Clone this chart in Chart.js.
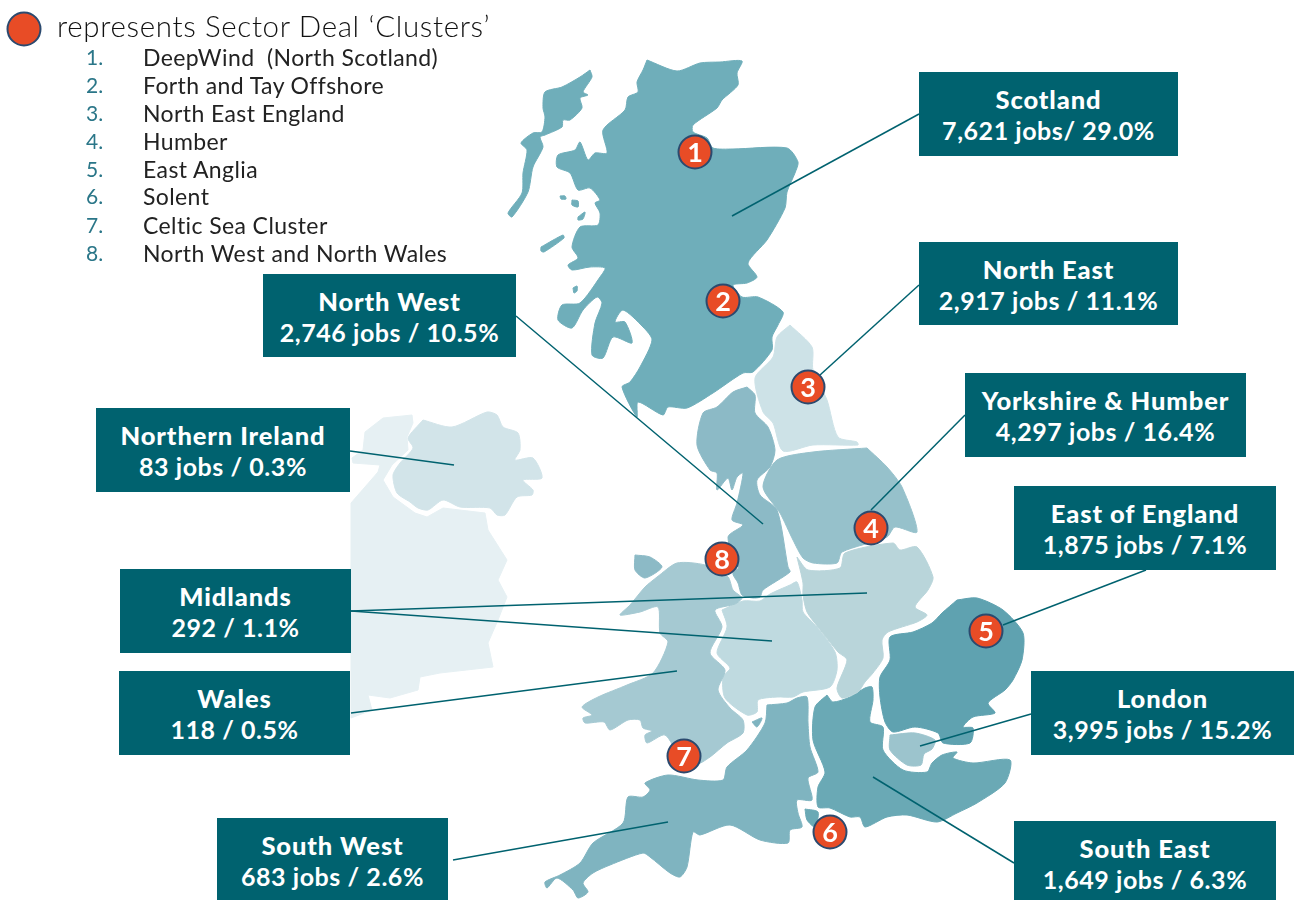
<!DOCTYPE html>
<html>
<head>
<meta charset="utf-8">
<style>
  html, body { margin: 0; padding: 0; background: #fff; overflow: hidden; }
  #wrap { position: relative; width: 1295px; height: 900px; font-family: Lato, sans-serif; }
  canvas { position: absolute; left: 0; top: 0; }
  .box { position: absolute; background: #00626f; color: #fff; text-align: center; font-weight: 700; font-size: 25px; line-height: 31px; letter-spacing: 0.55px; box-sizing: border-box; padding-top: 12px; white-space: nowrap; }
  .box b { font-size: 25.5px; letter-spacing: 0.9px; }
  .title { position: absolute; left: 57px; top: 8px; font-size: 29.5px; line-height: 36px; font-weight: 300; color: #111; letter-spacing: 0.65px; white-space: nowrap; }
  .num { position: absolute; left: 86px; font-size: 21px; line-height: 28px; color: #2a7688; font-weight: 400; }
  .item { position: absolute; left: 143px; font-size: 23px; line-height: 28px; color: #222; font-weight: 400; letter-spacing: 0.4px; white-space: pre; }
</style>
</head>
<body>
<div id="wrap">
  <canvas id="chartMapa" width="1295" height="900"></canvas>
  <div class="title">represents Sector Deal ‘Clusters’</div>
</div>
<script src="https://cdn.jsdelivr.net/npm/chart.js@4"></script>
<script>
const clusterNames = ['DeepWind  (North Scotland)', 'Forth and Tay Offshore', 'North East England', 'Humber', 'East Anglia', 'Solent', 'Celtic Sea Cluster', 'North West and North Wales'];
const clusterRows = [57, 85, 113, 141, 169, 196, 225, 253];
const clusterX = [695, 723, 808, 871, 986, 830, 684, 722];
const clusterY = [152, 301, 387, 528, 631, 832, 756, 559];

const regionNames = ['Scotland', 'North East', 'Yorkshire & Humber', 'East of England', 'London', 'South East', 'North West', 'Northern Ireland', 'Midlands', 'Wales', 'South West'];
const regionFigures = ['7,621 jobs/ 29.0%', '2,917 jobs / 11.1%', '4,297 jobs / 16.4%', '1,875 jobs / 7.1%', '3,995 jobs / 15.2%', '1,649 jobs / 6.3%', '2,746 jobs / 10.5%', '83 jobs / 0.3%', '292 / 1.1%', '118 / 0.5%', '683 jobs / 2.6%'];
// left, top, right, bottom of each label box
const regionBoxes = [
  [919, 72, 1178, 156], [919, 242, 1178, 325], [965, 373, 1246, 457], [1014, 486, 1276, 570],
  [1031, 671, 1294, 755], [1014, 821, 1276, 900], [263, 274, 516, 357], [96, 408, 350, 492],
  [120, 569, 351, 653], [119, 671, 350, 755], [217, 818, 448, 900]
];

// leader lines from the boxes into the map
const leaders = [
  [[919, 114], [732, 216]], [[919, 285], [820, 375]], [[965, 415], [871, 510]], [[1146, 570], [1003, 625]],
  [[1031, 714], [920, 746]], [[1014, 863], [873, 777]], [[516, 316], [763, 524]], [[350, 451], [454, 465]],
  [[351, 611], [867, 593]], [[351, 611], [772, 641]], [[351, 713], [677, 671]], [[453, 860], [668, 822]]
];

// map outlines
const scotland = [[647,60],[677,71],[700,63],[720,62],[742,61],[737,73],[738,85],[722,100],[717,108],[693,125],[693,132],[707,138],[713,148],[733,149],[787,148],[798,162],[795,173],[787,192],[785,208],[767,240],[748,263],[757,277],[747,283],[733,285],[742,297],[758,297],[783,312],[778,325],[772,337],[772,350],[753,372],[743,373],[713,393],[687,408],[668,407],[663,415],[638,402],[637,417],[622,387],[630,382],[640,367],[652,340],[643,327],[623,310],[615,322],[625,322],[632,343],[613,337],[603,358],[592,355],[595,323],[602,303],[597,297],[583,310],[572,328],[558,320],[562,305],[580,303],[600,277],[605,268],[590,267],[572,270],[568,265],[578,258],[572,247],[580,227],[598,225],[600,213],[595,203],[600,200],[590,188],[578,190],[570,173],[557,167],[558,155],[575,150],[580,142],[588,160],[595,153],[607,153],[603,130],[625,110],[628,97],[638,92],[637,82],[643,70]];
const hebrides = [[590,70],[592,77],[583,92],[588,95],[580,98],[582,108],[570,120],[563,120],[562,127],[545,135],[540,137],[543,147],[533,167],[528,192],[512,217],[508,213],[522,193],[523,173],[527,150],[521,143],[533,133],[542,132],[545,117],[543,108],[545,92],[562,87],[580,77]];
const isleA = [[572,200],[578,201],[578,207],[572,205]];
const isleB = [[578,217],[585,212],[583,219],[578,220]];
const isleC = [[541,247],[563,235],[564,238],[544,252],[541,251]];
const isleD = [[573,288],[577,286],[577,291],[574,293]];
const isleE = [[560,196],[565,196],[566,199],[561,199]];
const northEast = [[790,325],[812,347],[813,370],[827,400],[838,437],[857,442],[858,445],[813,445],[783,451],[773,423],[763,412],[755,378],[773,357],[777,337]];
const northWest = [[747,387],[755,395],[755,413],[768,427],[775,450],[770,467],[757,480],[760,495],[777,510],[788,567],[790,572],[763,590],[760,597],[753,598],[742,595],[738,583],[733,573],[748,563],[740,570],[728,537],[743,525],[732,520],[737,503],[743,473],[737,477],[732,490],[728,478],[717,490],[717,473],[710,470],[697,445],[703,413],[717,407],[733,392]];
const yorkshire = [[867,448],[887,467],[902,487],[917,532],[895,527],[887,537],[842,552],[837,563],[813,563],[803,558],[793,540],[780,513],[763,487],[777,460],[813,452]];
const anglesey = [[635,555],[650,557],[662,567],[645,578],[635,570]];
const wales = [[657,577],[677,563],[705,565],[728,577],[733,590],[742,598],[735,604],[715,610],[722,627],[710,653],[725,670],[718,690],[730,708],[743,720],[743,733],[727,743],[710,757],[695,765],[680,757],[665,735],[647,743],[645,735],[652,731],[643,728],[640,720],[628,720],[610,730],[604,722],[585,723],[583,718],[592,715],[582,707],[598,697],[627,685],[653,673],[668,642],[660,633],[658,607],[640,612],[620,615],[630,605],[645,587]];
const westMidlands = [[722,610],[743,601],[760,601],[770,594],[790,585],[797,582],[802,600],[803,612],[817,627],[835,652],[837,670],[830,687],[803,692],[793,697],[777,697],[758,700],[757,712],[747,715],[725,698],[723,677],[730,668],[717,653],[727,627]];
const eastMidlands = [[797,557],[808,570],[840,568],[845,553],[893,543],[900,550],[917,547],[933,577],[928,590],[915,607],[927,615],[917,622],[888,632],[882,640],[883,658],[873,673],[865,682],[858,692],[842,698],[837,688],[847,660],[838,652],[818,627],[807,612],[803,595],[803,583]];
const eastEngland = [[957,600],[977,598],[1003,610],[1023,633],[1022,660],[1013,680],[1005,690],[988,703],[995,713],[973,717],[963,727],[973,728],[970,743],[943,743],[938,733],[915,727],[893,732],[885,722],[880,697],[880,677],[890,660],[890,637],[913,632],[932,623],[942,613]];
const london = [[890,735],[915,733],[935,740],[932,749],[924,754],[921,765],[907,765],[890,750]];
const southEast = [[827,695],[833,702],[850,697],[865,688],[872,687],[873,700],[870,722],[883,727],[883,750],[903,770],[927,772],[932,763],[942,755],[957,752],[953,758],[973,763],[1010,760],[1005,783],[977,803],[957,813],[937,822],[907,815],[887,817],[865,827],[860,817],[850,817],[830,808],[818,807],[818,787],[825,772],[813,740],[815,707]];
const isleOfWight = [[805,809],[818,812],[815,827],[807,820]];
const southWest = [[767,705],[787,703],[797,698],[807,697],[808,723],[810,747],[818,772],[808,778],[812,800],[797,800],[798,813],[802,827],[790,830],[788,843],[760,840],[730,825],[700,835],[693,832],[687,867],[680,877],[670,873],[650,857],[643,853],[610,865],[593,873],[583,883],[588,892],[578,898],[573,890],[557,878],[547,888],[545,882],[560,875],[580,863],[593,843],[623,823],[628,797],[643,797],[650,790],[645,783],[668,775],[698,780],[723,780],[727,767],[747,750],[765,723]];
const severnIsle = [[752,722],[762,718],[757,727]];
const northernIreland = [[423,420],[452,427],[487,412],[497,415],[503,427],[518,433],[520,450],[515,460],[533,458],[542,478],[523,480],[533,490],[532,495],[517,497],[505,515],[497,515],[490,508],[460,507],[443,500],[428,510],[418,508],[410,502],[397,493],[393,475],[400,463],[413,448],[408,438]];
const ireland = [[365,432],[383,418],[412,415],[413,423],[407,437],[408,450],[392,465],[383,480],[393,497],[415,513],[427,517],[443,508],[485,513],[488,530],[507,560],[498,580],[507,597],[498,620],[488,643],[493,667],[440,673],[420,677],[418,690],[390,698],[368,695],[372,710],[351,718],[351,503],[378,472],[380,465],[353,463],[352,458],[363,450]];

const shapes = [
  [ireland, '#e6f0f3', 0], [northernIreland, '#d2e4e9', 0.25], [scotland, '#6faeba', 0.25], [hebrides, '#6faeba', 0.25],
  [isleA, '#6faeba', 0.25], [isleB, '#6faeba', 0.25], [isleC, '#6faeba', 0.25], [isleD, '#6faeba', 0.25], [isleE, '#6faeba', 0.25],
  [northEast, '#cde2e7', 0.25], [northWest, '#8cbac6', 0.25], [yorkshire, '#96c1cb', 0.25], [anglesey, '#8cbac6', 0.25],
  [wales, '#a5c9d2', 0.25], [westMidlands, '#bfdae0', 0.25], [eastMidlands, '#b9d5da', 0.25], [eastEngland, '#5fa2b0', 0.25],
  [london, '#9cc4cd', 0.25], [southEast, '#6aa9b5', 0.25], [isleOfWight, '#6aa9b5', 0.25], [southWest, '#7fb4c0', 0.25], [severnIsle, '#7fb4c0', 0.25]
];

const toPoints = list => list.map(p => ({ x: p[0], y: p[1] }));

const wrap = document.getElementById('wrap');
regionNames.forEach((name, i) => {
  const b = regionBoxes[i];
  const div = document.createElement('div');
  div.className = 'box';
  div.style.cssText = `left:${b[0]}px;top:${b[1]}px;width:${b[2] - b[0]}px;height:${b[3] - b[1]}px`;
  div.innerHTML = `<b>${name.replace('&', '&amp;')}</b><br>${regionFigures[i]}`;
  wrap.appendChild(div);
});
clusterNames.forEach((name, i) => {
  const n = document.createElement('div');
  n.className = 'num';
  n.style.top = (clusterRows[i] - 14) + 'px';
  n.textContent = (i + 1) + '.';
  wrap.appendChild(n);
  const t = document.createElement('div');
  t.className = 'item';
  t.style.top = (clusterRows[i] - 14) + 'px';
  t.textContent = name;
  wrap.appendChild(t);
});

// the numbers inside the red markers
const markerNumbers = {
  id: 'markerNumbers',
  afterDatasetsDraw(chart) {
    const { ctx, scales } = chart;
    ctx.save();
    ctx.fillStyle = '#fff';
    ctx.font = '700 27px Lato';
    ctx.textAlign = 'center';
    ctx.textBaseline = 'middle';
    clusterX.forEach((x, i) => {
      ctx.fillText(String(i + 1), scales.x.getPixelForValue(x), scales.y.getPixelForValue(clusterY[i]) + 1);
    });
    ctx.restore();
  }
};

const datasets = [];
shapes.forEach(s => {
  datasets.push({
    data: toPoints(s[0].concat([s[0][0]])),
    showLine: true,
    fill: 'shape',
    backgroundColor: s[1],
    borderColor: s[1],
    borderWidth: 1,
    pointRadius: 0,
    tension: s[2],
    order: 3
  });
});
leaders.forEach(l => {
  datasets.push({
    data: toPoints(l),
    showLine: true,
    borderColor: '#00626f',
    borderWidth: 1.5,
    pointRadius: 0,
    order: 2
  });
});
datasets.push({
  data: clusterX.map((x, i) => ({ x, y: clusterY[i] })).concat([{ x: 24, y: 29 }]),
  showLine: false,
  pointRadius: 16.5,
  pointBackgroundColor: '#e84c26',
  pointBorderColor: '#2b4a6f',
  pointBorderWidth: 2,
  order: 1
});

new Chart(document.getElementById('chartMapa'), {
  type: 'scatter',
  data: { datasets },
  plugins: [markerNumbers],
  options: {
    responsive: false,
    animation: false,
    layout: { padding: 0, autoPadding: false },
    plugins: { legend: { display: false }, tooltip: { enabled: false } },
    scales: {
      x: { display: false, min: 0, max: 1295 },
      y: { display: false, min: 0, max: 900, reverse: true }
    }
  }
});
</script>
</body>
</html>
